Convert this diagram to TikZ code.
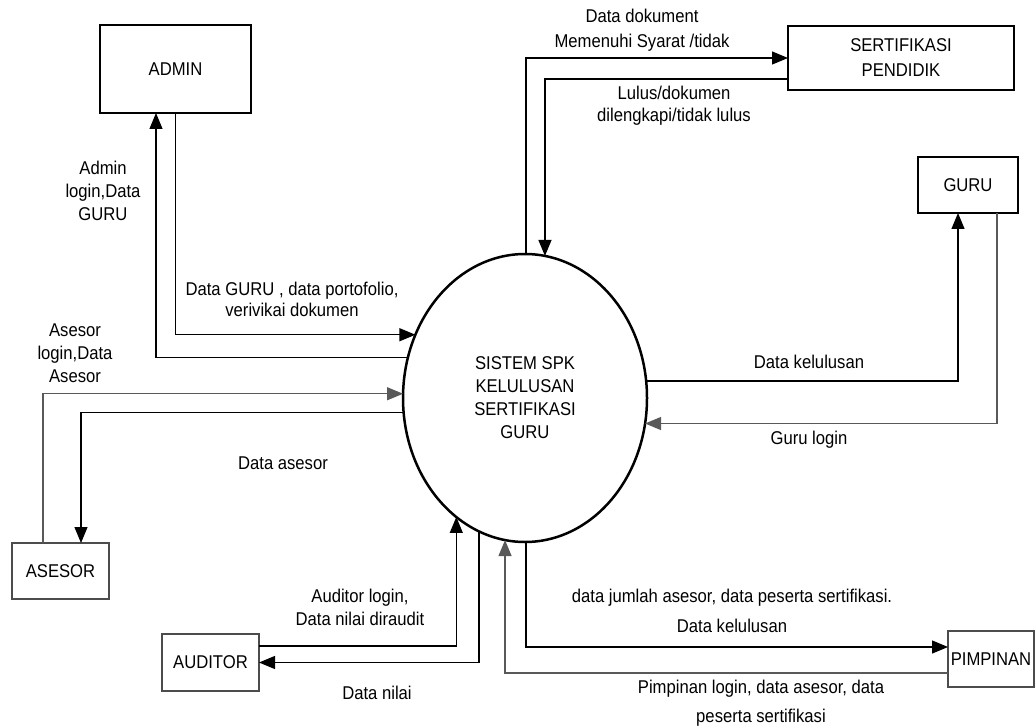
\documentclass[tikz,border=0pt]{standalone}
\usepackage{fontspec}
\setmainfont[FakeStretch=0.9]{Liberation Sans}
\usetikzlibrary{shapes.geometric,arrows.meta}
\begin{document}
\begin{tikzpicture}[x=1pt,y=-1pt,
  every node/.style={font=\fontsize{18.5}{23}\selectfont, align=center, inner sep=0pt, outer sep=0pt},
  thickbox/.style={draw, line width=2.8pt},
  thinbox/.style={draw=black!70, line width=1.3pt},
  proc/.style={draw, ellipse, line width=2.5pt, minimum width=244pt, minimum height=288pt},
  lbl/.style={},
  arr/.style={line width=1.2pt, -{Triangle[length=16pt,width=13pt]}},
  garr/.style={arr, draw=black!65}
]
\useasboundingbox (0,0) rectangle (1035,727);

% entities
\node[thickbox, minimum width=151pt, minimum height=88pt] (admin) at (175.5,69) {ADMIN};
\node[thickbox, minimum width=226pt, minimum height=64pt, font=\fontsize{18.5}{25}\selectfont] (sert) at (901,58) {SERTIFIKASI\\PENDIDIK};
\node[thickbox, minimum width=100pt, minimum height=56pt] (guru) at (968,185) {GURU};
\node[thinbox, minimum width=97pt, minimum height=56pt] (asesor) at (60.5,571) {ASESOR};
\node[thinbox, minimum width=97pt, minimum height=57pt] (auditor) at (210.5,662.5) {AUDITOR};
\node[thinbox, minimum width=86pt, minimum height=56pt] (pimp) at (991,659) {PIMPINAN};

% process
\node[proc] (sys) at (525,398) {SISTEM SPK\\KELULUSAN\\SERTIFIKASI\\GURU};

% connectors
\draw[arr] (admin.south) |- (sys.150.6);
\draw[arr] (sys.161.15) -| ([xshift=-19.5pt]admin.south);
\draw[garr] ([xshift=-17.5pt]asesor.north) |- (sys.178.1);
\draw[arr] (sys.187.05) -| ([xshift=20.5pt]asesor.north);
\draw[arr] ([xshift=1pt]sys.north) |- (sert.west);
\draw[arr] ([yshift=-21pt]sert.west) -| (sys.82);
\draw[arr] (sys.8) -| ([xshift=-10pt]guru.south);
\draw[garr] ([xshift=29pt]guru.south) |- (sys.348.2);
\draw[arr] ([yshift=16.5pt]auditor.east) -| (sys.240.4);
\draw[arr] (sys.251) |- (auditor.east);
\draw[arr] ([xshift=1pt]sys.south) |- ([yshift=12pt]pimp.west);
\draw[garr] ([yshift=-14pt]pimp.west) -| (sys.262.4);

% labels
\node[lbl, font=\fontsize{18.5}{25}\selectfont] (l1) at (642,30.5) {Data dokument\\Memenuhi Syarat /tidak};
\node[lbl, font=\fontsize{18.5}{22}\selectfont] (l2) at (674,106) {Lulus/dokumen\\dilengkapi/tidak lulus};
\node[lbl] (l3) at (103,190.5) {Admin\\login,Data\\GURU};
\node[lbl, font=\fontsize{18.5}{21}\selectfont] (l4) at (292,299.5) {Data GURU , data portofolio,\\verivikai dokumen};
\node[lbl] (l5) at (75,353) {Asesor\\login,Data\\Asesor};
\node[lbl] (l6) at (283,463) {Data asesor};
\node[lbl] (l7) at (809,362) {Data kelulusan};
\node[lbl] (l8) at (809,440) {Guru login};
\node[lbl] (l9) at (360,607.5) {Auditor login,\\Data nilai diraudit};
\node[lbl] (l10) at (377,693) {Data nilai};
\node[lbl, font=\fontsize{18.5}{30}\selectfont] (l11) at (732,610.5) {data jumlah asesor, data peserta sertifikasi.\\Data kelulusan};
\node[lbl, font=\fontsize{18.5}{29}\selectfont] (l12) at (761,703.5) {Pimpinan login, data asesor, data\\peserta sertifikasi};
\end{tikzpicture}
\end{document}
